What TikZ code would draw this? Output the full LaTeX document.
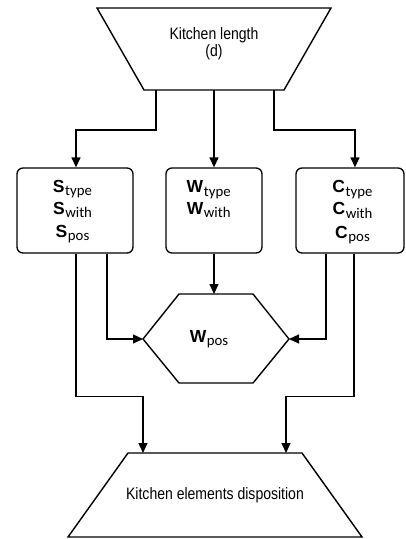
\documentclass[tikz,border=0pt]{standalone}
\usepackage{fontspec}
\setmainfont[FakeStretch=0.85]{Liberation Sans}
\newfontfamily\carl{Carlito}
\newfontfamily\capf{Liberation Sans}
\usetikzlibrary{arrows.meta}
\newcommand{\mylab}[2]{{\capf\fontsize{17.5}{17.5}\selectfont\bfseries #1}\hspace{0.6pt}{\carl\raisebox{-3.5pt}{\fontsize{14.8}{14.8}\selectfont #2}}}
\begin{document}
\begin{tikzpicture}[x=1pt,y=-1pt,
  shp/.style={draw=black,line width=1.4pt,line join=miter},
  box/.style={draw=black,line width=1.3pt,rounded corners=6pt,minimum height=85pt,inner sep=0pt},
  arr/.style={draw=black,line width=1.3pt,-{Triangle[length=10pt,width=9pt]}},
  txt/.style={font=\fontsize{16.5}{17}\selectfont,align=center,inner sep=0pt},
  rowlab/.style={anchor=base,inner sep=0pt}]
\useasboundingbox (0,0) rectangle (405,539);
% top trapezoid
\draw[shp] (97,8) -- (331,8) -- (284,90) -- (144,90) -- cycle;
\node[txt] (top) at (214,44) {Kitchen length\\(d)};
\coordinate (t1) at (156,90);
\coordinate (t2) at (214,90);
\coordinate (t3) at (274,90);
% boxes
\node[box,minimum width=116pt] (sbox) at (75,210.5) {};
\node[box,minimum width=96pt] (wbox) at (214,210.5) {};
\node[box,minimum width=108pt] (cbox) at (350,210.5) {};
\node[rowlab] (s1) at (72.5,192) {\mylab{S}{type}};
\node[rowlab] (s2) at (72.5,214) {\mylab{S}{with}};
\node[rowlab] (s3) at (72.5,237) {\mylab{S}{pos}};
\node[rowlab] (w1) at (208.7,192.5) {\mylab{W}{type}};
\node[rowlab] (w2) at (208.7,214.2) {\mylab{W}{with}};
\node[rowlab] (c1) at (352.5,192.5) {\mylab{C}{type}};
\node[rowlab] (c2) at (352.5,214.5) {\mylab{C}{with}};
\node[rowlab] (c3) at (352.5,238) {\mylab{C}{pos}};
% hexagon
\draw[shp] (143,339) -- (179,294) -- (253,294) -- (289,339) -- (253,383) -- (179,383) -- cycle;
\coordinate (hN) at (214,294);
\coordinate (hW) at (143,339);
\coordinate (hE) at (289,339);
\node[rowlab] (wpos) at (209,342) {\mylab{W}{pos}};
% bottom trapezoid
\draw[shp] (128,453) -- (302,453) -- (362,537) -- (68,537) -- cycle;
\node[txt] (bot) at (215,495) {Kitchen elements disposition};
\coordinate (b1) at (143,453);
\coordinate (b2) at (286,453);
% connectors
\draw[arr] (t1) -- ++(0,40) -| ([xshift=1pt]sbox.north);
\draw[arr] (t2) -- (wbox.north);
\draw[arr] (t3) -- ++(0,40) -| ([xshift=5pt]cbox.north);
\draw[arr] (wbox.south) -- (hN);
\draw[arr] ([xshift=32pt]sbox.south) |- (hW);
\draw[arr] ([xshift=-24pt]cbox.south) |- (hE);
\draw[arr] ([xshift=1pt]sbox.south) -- ++(0,143) -| (b1);
\draw[arr] ([xshift=4pt]cbox.south) -- ++(0,143) -| (b2);
\end{tikzpicture}
\end{document}
